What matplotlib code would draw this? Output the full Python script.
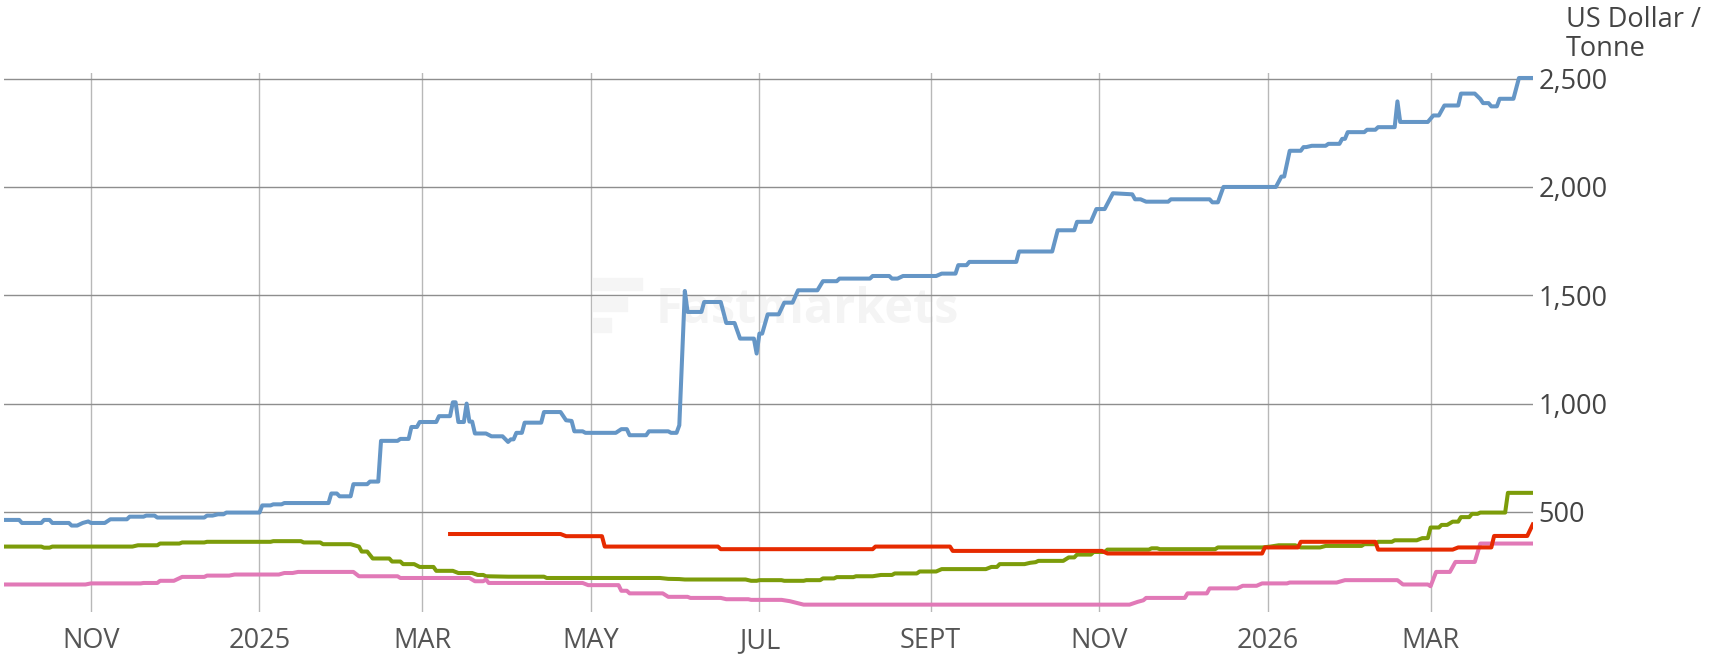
import matplotlib
matplotlib.use("Agg")
import matplotlib.pyplot as plt
from matplotlib.patches import Rectangle
import pandas as pd

plt.rcParams["font.family"] = ["Open Sans", "DejaVu Sans"]

# --- data (US$/tonne) ---
blue_dates = [
    "2024-09-30", "2024-10-06", "2024-10-07", "2024-10-14", "2024-10-15", "2024-10-17",
    "2024-10-18", "2024-10-24", "2024-10-25", "2024-10-27", "2024-10-29", "2024-10-31",
    "2024-11-01", "2024-11-06", "2024-11-08", "2024-11-14", "2024-11-15", "2024-11-20",
    "2024-11-21", "2024-11-24", "2024-11-25", "2024-12-12", "2024-12-13", "2024-12-15",
    "2024-12-17", "2024-12-19", "2024-12-20", "2025-01-01", "2025-01-02", "2025-01-05",
    "2025-01-06", "2025-01-09", "2025-01-10", "2025-01-26", "2025-01-27", "2025-01-29",
    "2025-01-30", "2025-02-03", "2025-02-04", "2025-02-09", "2025-02-10", "2025-02-13",
    "2025-02-14", "2025-02-20", "2025-02-21", "2025-02-24", "2025-02-25", "2025-02-27",
    "2025-02-28", "2025-03-06", "2025-03-07", "2025-03-11", "2025-03-12", "2025-03-13",
    "2025-03-14", "2025-03-16", "2025-03-17", "2025-03-18", "2025-03-19", "2025-03-20",
    "2025-03-24", "2025-03-26", "2025-03-30", "2025-04-01", "2025-04-02", "2025-04-03",
    "2025-04-04", "2025-04-06", "2025-04-07", "2025-04-13", "2025-04-14", "2025-04-20",
    "2025-04-22", "2025-04-24", "2025-04-25", "2025-04-28", "2025-04-29", "2025-05-10",
    "2025-05-12", "2025-05-14", "2025-05-15", "2025-05-21", "2025-05-22", "2025-05-29",
    "2025-05-30", "2025-06-01", "2025-06-02", "2025-06-04", "2025-06-05", "2025-06-10",
    "2025-06-11", "2025-06-17", "2025-06-19", "2025-06-22", "2025-06-24", "2025-06-29",
    "2025-06-30", "2025-07-01", "2025-07-02", "2025-07-04", "2025-07-08", "2025-07-10",
    "2025-07-13", "2025-07-15", "2025-07-22", "2025-07-24", "2025-07-29", "2025-07-30",
    "2025-08-10", "2025-08-11", "2025-08-17", "2025-08-18", "2025-08-20", "2025-08-22",
    "2025-09-03", "2025-09-05", "2025-09-10", "2025-09-11", "2025-09-14", "2025-09-15",
    "2025-10-02", "2025-10-03", "2025-10-15", "2025-10-17", "2025-10-23", "2025-10-24",
    "2025-10-29", "2025-10-31", "2025-11-03", "2025-11-06", "2025-11-13", "2025-11-14",
    "2025-11-16", "2025-11-18", "2025-11-26", "2025-11-27", "2025-12-11", "2025-12-12",
    "2025-12-14", "2025-12-16", "2026-01-04", "2026-01-06", "2026-01-07", "2026-01-09",
    "2026-01-13", "2026-01-14", "2026-01-15", "2026-01-17", "2026-01-22", "2026-01-23",
    "2026-01-27", "2026-01-28", "2026-01-29", "2026-01-30", "2026-02-05", "2026-02-06",
    "2026-02-09", "2026-02-10", "2026-02-16", "2026-02-17", "2026-02-18", "2026-02-28",
    "2026-03-02", "2026-03-04", "2026-03-06", "2026-03-11", "2026-03-12", "2026-03-17",
    "2026-03-19", "2026-03-20", "2026-03-22", "2026-03-23", "2026-03-25", "2026-03-26",
    "2026-03-31", "2026-04-02", "2026-04-07",
]
blue_values = [
    463, 463, 449, 449, 463, 463,
    449, 449, 437, 437, 449, 456,
    449, 449, 466, 466, 478, 478,
    483, 483, 474, 474, 483, 483,
    489, 489, 497, 497, 530, 530,
    535, 535, 541, 541, 585, 585,
    572, 572, 628, 628, 640, 640,
    828, 828, 837, 837, 892, 892,
    915, 915, 942, 942, 1006, 1006,
    915, 915, 1000, 917, 917, 862,
    862, 849, 849, 823, 835, 835,
    865, 865, 912, 912, 961, 961,
    923, 920, 872, 872, 865, 865,
    882, 882, 854, 854, 872, 872,
    865, 865, 900, 1520, 1423, 1423,
    1469, 1469, 1372, 1372, 1300, 1300,
    1231, 1323, 1323, 1412, 1412, 1466,
    1466, 1523, 1523, 1565, 1565, 1577,
    1577, 1589, 1589, 1577, 1577, 1589,
    1589, 1600, 1600, 1639, 1639, 1654,
    1654, 1702, 1702, 1800, 1800, 1839,
    1839, 1898, 1898, 1971, 1966, 1943,
    1943, 1932, 1932, 1943, 1943, 1929,
    1929, 2000, 2000, 2048, 2048, 2167,
    2167, 2184, 2184, 2190, 2190, 2199,
    2199, 2222, 2222, 2253, 2253, 2264,
    2264, 2276, 2276, 2395, 2300, 2300,
    2330, 2330, 2376, 2376, 2431, 2431,
    2406, 2387, 2387, 2372, 2372, 2407,
    2407, 2503, 2503,
]

green_dates = [
    "2024-09-30", "2024-10-14", "2024-10-15", "2024-10-17", "2024-10-18", "2024-11-16",
    "2024-11-18", "2024-11-25", "2024-11-26", "2024-12-03", "2024-12-04", "2024-12-12",
    "2024-12-13", "2025-01-05", "2025-01-06", "2025-01-16", "2025-01-17", "2025-01-23",
    "2025-01-24", "2025-02-03", "2025-02-06", "2025-02-07", "2025-02-09", "2025-02-11",
    "2025-02-17", "2025-02-18", "2025-02-21", "2025-02-22", "2025-02-26", "2025-02-28",
    "2025-03-05", "2025-03-06", "2025-03-12", "2025-03-14", "2025-03-19", "2025-03-21",
    "2025-03-23", "2025-03-24", "2025-04-01", "2025-04-14", "2025-04-15", "2025-05-26",
    "2025-05-29", "2025-06-02", "2025-06-04", "2025-06-26", "2025-06-28", "2025-06-30",
    "2025-07-01", "2025-07-09", "2025-07-10", "2025-07-17", "2025-07-18", "2025-07-23",
    "2025-07-24", "2025-07-28", "2025-07-29", "2025-08-04", "2025-08-05", "2025-08-11",
    "2025-08-14", "2025-08-18", "2025-08-19", "2025-08-27", "2025-08-28", "2025-09-03",
    "2025-09-05", "2025-09-21", "2025-09-23", "2025-09-25", "2025-09-26", "2025-10-05",
    "2025-10-07", "2025-10-09", "2025-10-10", "2025-10-19", "2025-10-21", "2025-10-23",
    "2025-10-24", "2025-10-29", "2025-10-30", "2025-11-03", "2025-11-04", "2025-11-19",
    "2025-11-20", "2025-11-22", "2025-11-23", "2025-12-13", "2025-12-14", "2025-12-30",
    "2026-01-02", "2026-01-05", "2026-01-11", "2026-01-12", "2026-01-13", "2026-01-20",
    "2026-01-22", "2026-02-04", "2026-02-05", "2026-02-09", "2026-02-10", "2026-02-15",
    "2026-02-16", "2026-02-24", "2026-02-26", "2026-02-28", "2026-03-01", "2026-03-04",
    "2026-03-05", "2026-03-07", "2026-03-09", "2026-03-11", "2026-03-12", "2026-03-15",
    "2026-03-16", "2026-03-18", "2026-03-19", "2026-03-28", "2026-03-29", "2026-04-07",
]
green_values = [
    340, 340, 335, 335, 340, 340,
    346, 346, 354, 354, 359, 359,
    362, 362, 365, 365, 359, 359,
    351, 351, 340, 317, 317, 285,
    285, 271, 271, 259, 259, 246,
    246, 228, 228, 218, 218, 209,
    209, 203, 201, 201, 195, 195,
    191, 190, 188, 188, 182, 182,
    185, 185, 182, 182, 185, 185,
    193, 193, 199, 199, 203, 203,
    209, 209, 216, 216, 225, 225,
    236, 236, 246, 246, 259, 259,
    265, 268, 274, 274, 290, 290,
    303, 303, 315, 315, 326, 326,
    332, 332, 328, 328, 336, 336,
    340, 346, 346, 340, 336, 336,
    343, 343, 351, 351, 362, 362,
    369, 369, 379, 379, 428, 428,
    440, 440, 455, 455, 476, 476,
    491, 491, 497, 497, 588, 588,
]

red_dates = [
    "2025-03-11", "2025-04-20", "2025-04-22", "2025-05-05", "2025-05-06", "2025-06-16",
    "2025-06-17", "2025-08-11", "2025-08-12", "2025-09-08", "2025-09-09", "2025-11-02",
    "2025-11-04", "2025-12-30", "2025-12-31", "2026-01-12", "2026-01-13", "2026-02-09",
    "2026-02-10", "2026-03-09", "2026-03-11", "2026-03-23", "2026-03-24", "2026-04-05",
    "2026-04-07",
]
red_values = [
    398, 398, 388, 388, 340, 340,
    328, 328, 340, 340, 320, 320,
    308, 308, 336, 336, 362, 362,
    326, 326, 336, 336, 389, 389,
    442,
]

pink_dates = [
    "2024-09-30", "2024-10-30", "2024-11-01", "2024-11-19", "2024-11-20", "2024-11-25",
    "2024-11-26", "2024-12-01", "2024-12-04", "2024-12-12", "2024-12-13", "2024-12-21",
    "2024-12-23", "2025-01-08", "2025-01-10", "2025-01-13", "2025-01-15", "2025-02-04",
    "2025-02-06", "2025-02-20", "2025-02-21", "2025-03-18", "2025-03-20", "2025-03-23",
    "2025-03-24", "2025-03-25", "2025-04-28", "2025-04-30", "2025-05-11", "2025-05-12",
    "2025-05-14", "2025-05-15", "2025-05-27", "2025-05-29", "2025-06-05", "2025-06-06",
    "2025-06-17", "2025-06-19", "2025-06-27", "2025-06-28", "2025-07-09", "2025-07-12",
    "2025-07-17", "2025-11-12", "2025-11-15", "2025-11-17", "2025-11-18", "2025-12-02",
    "2025-12-03", "2025-12-10", "2025-12-11", "2025-12-21", "2025-12-23", "2025-12-28",
    "2025-12-30", "2026-01-08", "2026-01-09", "2026-01-26", "2026-01-29", "2026-02-17",
    "2026-02-19", "2026-02-28", "2026-03-01", "2026-03-03", "2026-03-08", "2026-03-10",
    "2026-03-17", "2026-03-19", "2026-04-07",
]
pink_values = [
    165, 165, 170, 170, 172, 172,
    182, 182, 200, 200, 206, 206,
    211, 211, 218, 218, 223, 223,
    203, 203, 195, 195, 180, 180,
    188, 172, 172, 162, 162, 136,
    136, 124, 124, 108, 108, 103,
    103, 97, 97, 94, 94, 88,
    72, 72, 85, 92, 103, 103,
    124, 124, 147, 147, 159, 159,
    170, 170, 174, 174, 185, 185,
    165, 165, 157, 223, 223, 269,
    269, 354, 354,
]

tick_dates = ["2024-11-01", "2025-01-01", "2025-03-01", "2025-05-01", "2025-07-01",
              "2025-09-01", "2025-11-01", "2026-01-01", "2026-03-01"]
tick_labels = ["NOV", "2025", "MAR", "MAY", "JUL", "SEPT", "NOV", "2026", "MAR"]
y_ticks = [500, 1000, 1500, 2000, 2500]

series = [
    (blue_dates, blue_values, "#6596c6"),
    (green_dates, green_values, "#7c9c0a"),
    (pink_dates, pink_values, "#e179b7"),
    (red_dates, red_values, "#e62a00"),
]

fig = plt.figure(figsize=(17.16, 6.63), dpi=100)
W, H = 1716, 663
ax = fig.add_axes([4 / W, 1 - 612 / H, (1533 - 4) / W, (612 - 73) / H])

# faint watermark (logo + word)
ax.text((656 - 4) / (1533 - 4), 1 - (310 - 73) / (612 - 73), "Fastmarkets",
        transform=ax.transAxes, fontsize=35, fontweight="bold", color="#f4f4f4",
        ha="left", va="center", zorder=0)
for (x0, y0, w, h) in [(593, 278, 49, 12), (593, 297, 34, 14), (593, 318, 18, 14)]:
    fig.patches.append(Rectangle((x0 / W, 1 - (y0 + h) / H), w / W, h / H,
                                 transform=fig.transFigure, color="#f5f5f5", zorder=0))

for d, v, c in series:
    ax.plot(pd.to_datetime(d), v, color=c, lw=2.9, solid_joinstyle="round", zorder=3)

ax.set_xlim(pd.Timestamp("2024-09-30 12:00"), pd.Timestamp("2026-04-07 02:00"))
ax.set_ylim(38, 2526)

ax.set_xticks(pd.to_datetime(tick_dates))
ax.set_xticklabels(tick_labels)
ax.set_yticks(y_ticks)
ax.set_yticklabels([f"{t:,}" for t in y_ticks])
ax.yaxis.tick_right()

ax.tick_params(axis="x", length=0, pad=26, labelsize=19.5, labelcolor="#555555")
ax.tick_params(axis="y", length=0, pad=4, labelsize=19.5, labelcolor="#444444")
# share one baseline for all month labels (the J of JUL hangs lower)
for tick in ax.xaxis.get_major_ticks():
    tick.label1.set_verticalalignment("baseline")

ax.grid(axis="x", color="#b8b8b8", lw=1.0, zorder=1)
ax.grid(axis="y", color="#8e8e8e", lw=1.0, zorder=1)
for s in ax.spines.values():
    s.set_visible(False)

fig.text(1566 / W, 1 - 6 / H, "US Dollar /\nTonne", ha="left", va="top",
         fontsize=19.5, color="#444444", linespacing=1.05)

fig.savefig("out.png", dpi=100)
